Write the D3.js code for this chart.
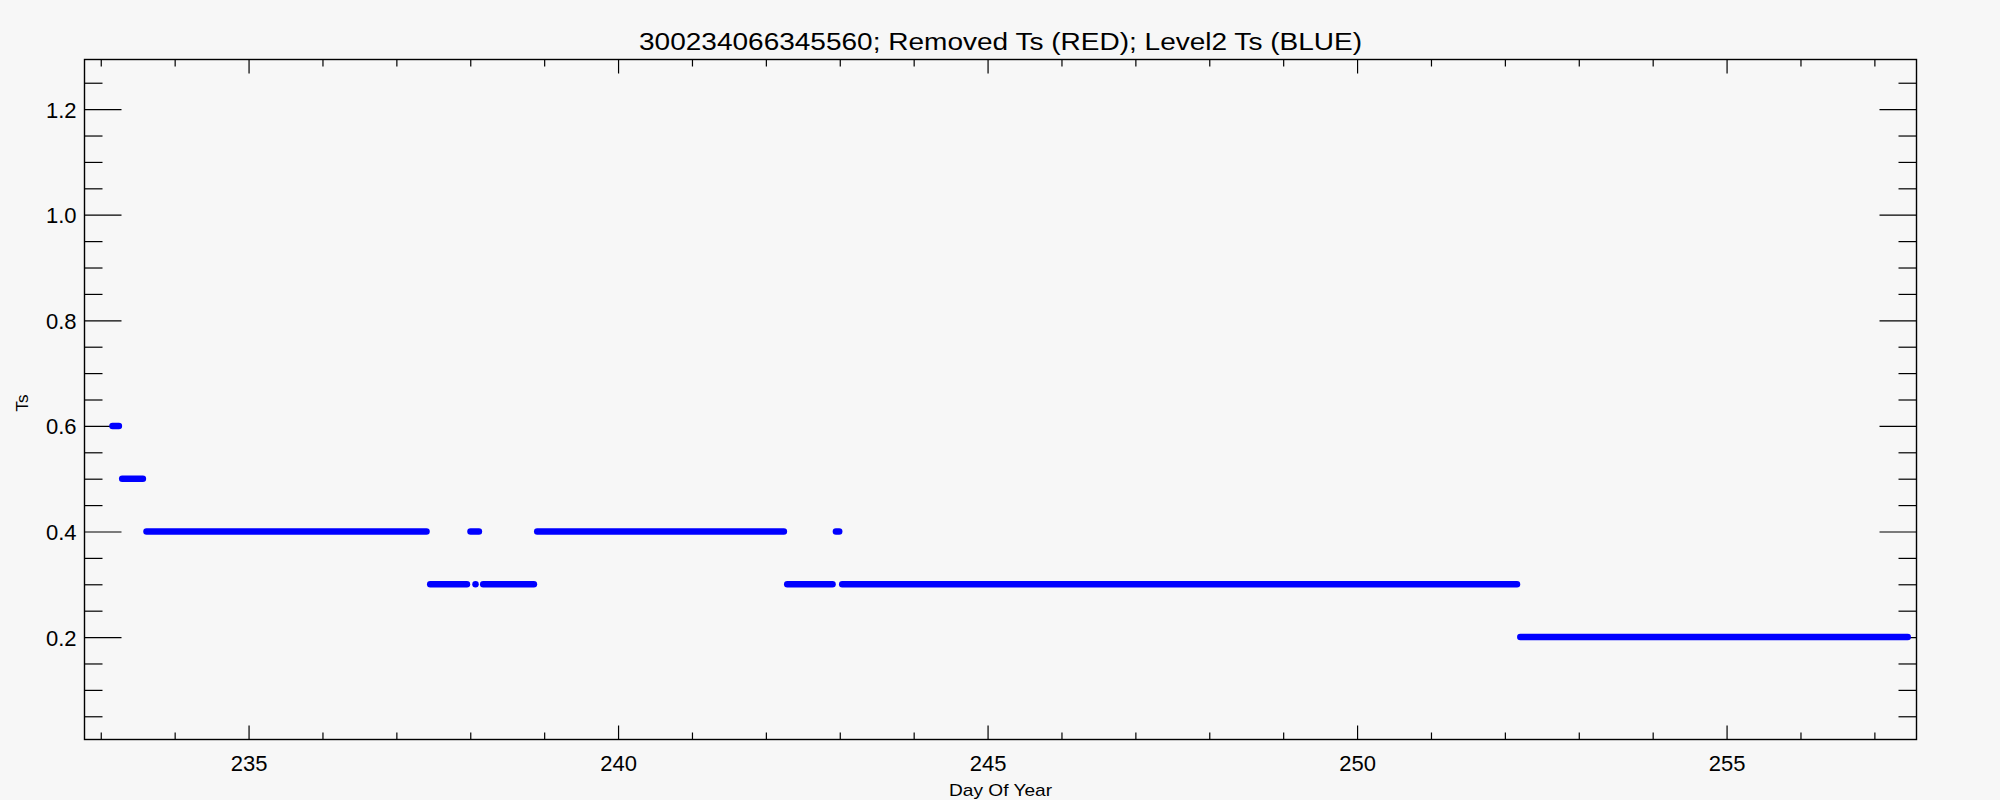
<!DOCTYPE html>
<html>
<head>
<meta charset="utf-8">
<script src="https://cdn.jsdelivr.net/npm/d3@7/dist/d3.min.js"></script>
<style>
html,body{margin:0;padding:0;background:#f7f7f7;}
svg{display:block;}
text{font-family:"Liberation Sans",Arial,sans-serif;fill:#000;}
</style>
</head>
<body>
<script>
// ---- data ----
const chartTitle = "300234066345560; Removed Ts (RED); Level2 Ts (BLUE)";
const xTitle = "Day Of Year";
const yTitle = "Ts";
const xDomain = [232.78, 257.57];
const yDomain = [0.006, 1.294];
const xMajorTicks = [235, 240, 245, 250, 255];
const xMinorTicks = [233, 234, 236, 237, 238, 239, 241, 242, 243, 244, 246, 247, 248, 249, 251, 252, 253, 254, 256, 257];
const yMajorTicks = [0.2, 0.4, 0.6, 0.8, 1.0, 1.2];
const yMinorTicks = [0.05, 0.1, 0.15, 0.25, 0.3, 0.35, 0.45, 0.5, 0.55, 0.65, 0.7, 0.75, 0.85, 0.9, 0.95, 1.05, 1.1, 1.15, 1.25];
// Level2 Ts runs (blue): start day, end day, value
const runStart = [233.159, 233.290, 233.619, 237.458, 238.003, 238.071, 238.175, 238.906, 242.289, 242.948, 243.033, 252.209];
const runEnd   = [233.245, 233.570, 237.408, 237.955, 238.117, 238.071, 238.861, 242.244, 242.902, 242.992, 252.164, 257.451];
const runValue = [0.6,     0.5,     0.4,     0.3,     0.4,     0.3,     0.3,     0.4,     0.3,     0.4,     0.3,     0.2];

// ---- layout ----
const W = 2000, H = 800;
const L = 84.5, R = 1916.5, T = 59.5, B = 739.5;

const svg = d3.select("body").append("svg").attr("width", W).attr("height", H);
svg.append("rect").attr("width", W).attr("height", H).attr("fill", "#f7f7f7");

const x = d3.scaleLinear().domain(xDomain).range([L, R]);
const y = d3.scaleLinear().domain(yDomain).range([B, T]);

const xMajLen = 14, xMinLen = 7, yMajLen = 37, yMinLen = 18;

function styleAxis(g){
  g.select(".domain").remove();
  g.selectAll(".tick line").attr("stroke", "#000").attr("stroke-width", 1.2);
}

// bottom axis
svg.append("g").attr("transform", `translate(0,${B})`)
  .call(d3.axisBottom(x).tickValues(xMajorTicks).tickSize(-xMajLen).tickPadding(0).tickFormat(d3.format("d")))
  .call(styleAxis)
  .call(g => g.selectAll(".tick text").attr("font-size", 22).attr("y", 0).attr("dy", 31).attr("font-family", "Liberation Sans"));
svg.append("g").attr("transform", `translate(0,${B})`)
  .call(d3.axisBottom(x).tickValues(xMinorTicks).tickSize(-xMinLen).tickFormat(""))
  .call(styleAxis);
// top axis
svg.append("g").attr("transform", `translate(0,${T})`)
  .call(d3.axisTop(x).tickValues(xMajorTicks).tickSize(-xMajLen).tickFormat(""))
  .call(styleAxis);
svg.append("g").attr("transform", `translate(0,${T})`)
  .call(d3.axisTop(x).tickValues(xMinorTicks).tickSize(-xMinLen).tickFormat(""))
  .call(styleAxis);
// left axis
svg.append("g").attr("transform", `translate(${L},0)`)
  .call(d3.axisLeft(y).tickValues(yMajorTicks).tickSize(-yMajLen).tickPadding(0).tickFormat(d3.format(".1f")))
  .call(styleAxis)
  .call(g => g.selectAll(".tick text").attr("font-size", 22).attr("x", -8).attr("dy", 8).attr("font-family", "Liberation Sans"));
svg.append("g").attr("transform", `translate(${L},0)`)
  .call(d3.axisLeft(y).tickValues(yMinorTicks).tickSize(-yMinLen).tickFormat(""))
  .call(styleAxis);
// right axis
svg.append("g").attr("transform", `translate(${R},0)`)
  .call(d3.axisRight(y).tickValues(yMajorTicks).tickSize(-yMajLen).tickFormat(""))
  .call(styleAxis);
svg.append("g").attr("transform", `translate(${R},0)`)
  .call(d3.axisRight(y).tickValues(yMinorTicks).tickSize(-yMinLen).tickFormat(""))
  .call(styleAxis);

// frame
svg.append("rect").attr("x", L).attr("y", T).attr("width", R - L).attr("height", B - T)
  .attr("fill", "none").attr("stroke", "#000").attr("stroke-width", 1.4);

// data runs
const runs = runStart.map((s, i) => ({s, e: runEnd[i], v: runValue[i]}));
svg.append("g").selectAll("line").data(runs).join("line")
  .attr("x1", d => x(d.s)).attr("x2", d => x(d.e))
  .attr("y1", d => y(d.v)).attr("y2", d => y(d.v))
  .attr("stroke", "#0000ff").attr("stroke-width", 6.5).attr("stroke-linecap", "round");

// titles
svg.append("text").attr("x", (L + R) / 2).attr("y", 50).attr("text-anchor", "middle")
  .attr("font-size", 23).attr("textLength", 723).attr("lengthAdjust", "spacingAndGlyphs").text(chartTitle);
svg.append("text").attr("x", (L + R) / 2).attr("y", 796).attr("text-anchor", "middle")
  .attr("font-size", 17).attr("textLength", 103).attr("lengthAdjust", "spacingAndGlyphs").text(xTitle);
svg.append("text").attr("transform", `translate(28,403) rotate(-90)`).attr("text-anchor", "middle")
  .attr("font-size", 17).text(yTitle);
</script>
</body>
</html>
